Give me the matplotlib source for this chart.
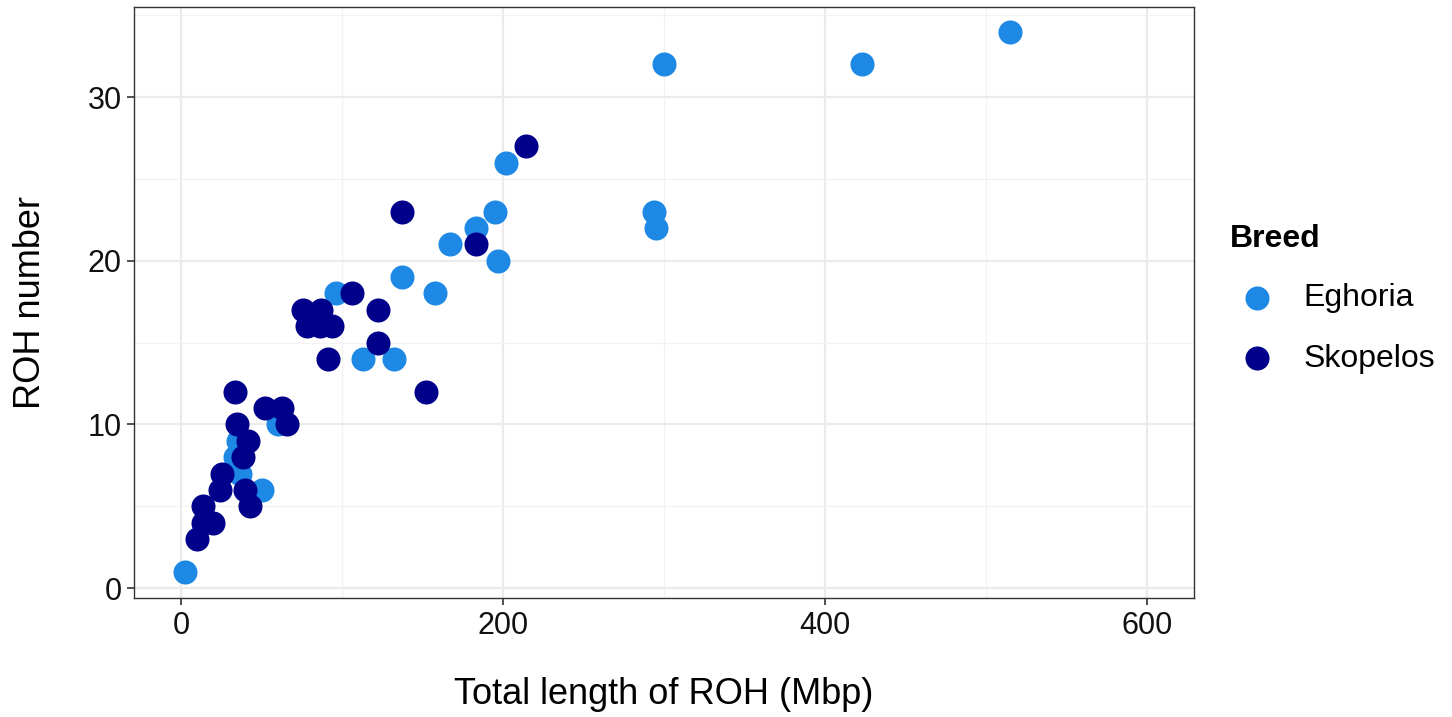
import matplotlib
matplotlib.use("Agg")
import matplotlib.pyplot as plt
from matplotlib.ticker import MultipleLocator

plt.rcParams['font.family'] = ['Liberation Sans', 'DejaVu Sans']

egh_x = [2.5, 515, 300, 423, 294, 295, 202, 195, 183, 167, 197, 137, 158, 96,
         113, 132, 60, 50, 35.5, 33.5, 36.6]
egh_y = [1, 34, 32, 32, 23, 22, 26, 23, 22, 21, 20, 19, 18, 18,
         14, 14, 10, 6, 9, 8, 7]

sko_x = [214, 137, 183, 106, 76, 87, 122, 78, 86, 94, 152, 122, 91,
         33.5, 52, 63, 66, 35, 41.6, 38.5, 25.5, 24, 40, 43, 13.7, 13.7, 20, 10]
sko_y = [27, 23, 21, 18, 17, 17, 17, 16, 16, 16, 12, 15, 14,
         12, 11, 11, 10, 10, 9, 8, 7, 6, 6, 5, 5, 4, 4, 3]

breeds = ["Eghoria", "Skopelos"]
colors = ["#1E88E5", "#00008B"]

fig = plt.figure(figsize=(14.52, 7.17), dpi=100)
ax = fig.add_axes([134/1452, 1-598/717, (1194-134)/1452, (598-7)/717])

ax.scatter(egh_x, egh_y, s=300, color=colors[0], label=breeds[0], zorder=3, linewidths=0)
ax.scatter(sko_x, sko_y, s=300, color=colors[1], label=breeds[1], zorder=3, linewidths=0)

ax.set_xlim(-29.2, 629)
ax.set_ylim(-0.6, 35.5)
ax.xaxis.set_major_locator(MultipleLocator(200))
ax.xaxis.set_minor_locator(MultipleLocator(100))
ax.yaxis.set_major_locator(MultipleLocator(10))
ax.yaxis.set_minor_locator(MultipleLocator(5))
ax.grid(which='major', color='#EBEBEB', linewidth=1.6, zorder=0)
ax.grid(which='minor', color='#F2F2F2', linewidth=0.9, zorder=0)
ax.set_axisbelow(True)
for sp in ax.spines.values():
    sp.set_color('#333333')
    sp.set_linewidth(1.0)
ax.tick_params(which='major', length=5, width=1.2, color='#333333', labelsize=22, labelcolor='#111111', pad=4)
ax.tick_params(which='minor', length=0)

ax.set_xlabel("Total length of ROH (Mbp)", fontsize=26, labelpad=26, color='black')
ax.set_ylabel("ROH number", fontsize=26, labelpad=28, color='black')

leg = fig.legend(title="Breed", loc='upper left', bbox_to_anchor=(1230/1452, 1-224/717),
                 frameon=False, fontsize=23, title_fontsize=23, markerscale=1.0,
                 handlelength=1.7, handletextpad=0.6, labelspacing=0.95, borderaxespad=0,
                 borderpad=0)
leg.get_title().set_fontweight('bold')
leg._legend_box.align = "left"
leg._legend_box.sep = 21

fig.savefig("out.png", dpi=100)
